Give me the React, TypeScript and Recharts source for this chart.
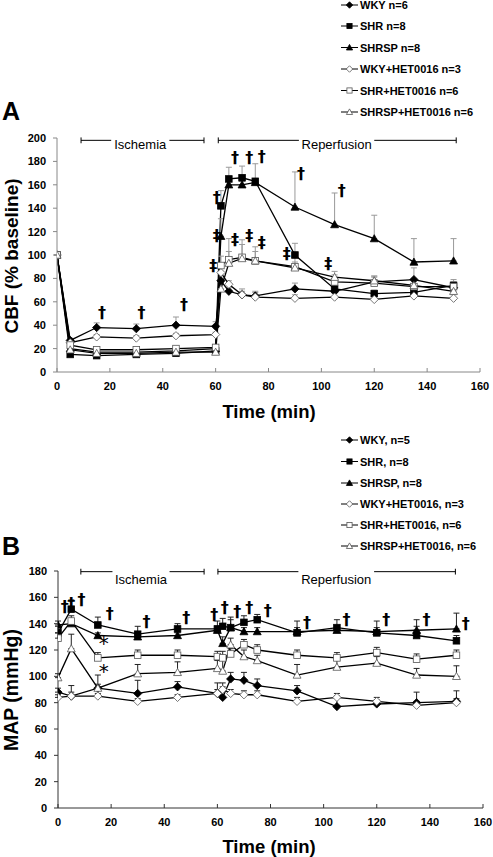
import React from "react";
import {
  ComposedChart, Line, XAxis, YAxis, Scatter, ErrorBar, ReferenceLine,
} from "recharts";

const FONT = '"Liberation Sans", Arial, sans-serif';

// sampling times (min), both panels
const TIMES = [0, 5, 15, 30, 45, 60, 62, 65, 70, 75, 90, 105, 120, 135, 150];
const X_TICKS = [0, 20, 40, 60, 80, 100, 120, 140, 160];
const CBF_TICKS = [0, 20, 40, 60, 80, 100, 120, 140, 160, 180, 200];
const MAP_TICKS = [0, 20, 40, 60, 80, 100, 120, 140, 160, 180];

// panel A: CBF (% baseline)
const cbfWky      = [100, 27, 38, 37, 40, 39, 78, 69, 66, 65, 71, 69, 77, 79, 72];
const cbfShr      = [100, 15, 14, 15, 16, 18, 142, 165, 166, 163, 100, 71, 67, 68, 74];
const cbfShrsp    = [100, 20, 17, 17, 18, 20, 116, 160, 160, 162, 141, 126, 114, 94, 95];
const cbfWkyHet   = [100, 25, 30, 29, 31, 32, 85, 75, 66, 64, 63, 64, 62, 65, 63];
const cbfShrHet   = [100, 23, 19, 19, 20, 21, 91, 96, 98, 95, 90, 77, 76, 73, 73];
const cbfShrspHet = [100, 19, 16, 16, 17, 17, 71, 93, 97, 95, 89, 81, 78, 74, 69];

const cbfWkyErr      = [0, 2, 4, 4, 7, 4, 8, 3, 3, 3, 5, 4, 5, 10, 5];
const cbfShrErr      = [0, 1, 1, 1, 1, 1, 13, 10, 10, 15, 10, 4, 3, 4, 5];
const cbfShrspErr    = [0, 1, 1, 1, 1, 2, 15, 3, 3, 3, 30, 27, 20, 20, 19];
const cbfWkyHetErr   = [0, 2, 2, 2, 2, 2, 5, 3, 5, 5, 3, 3, 3, 4, 3];
const cbfShrHetErr   = [0, 1, 1, 1, 1, 1, 8, 18, 15, 12, 8, 6, 5, 5, 4];
const cbfShrspHetErr = [0, 1, 1, 1, 1, 1, 6, 10, 12, 8, 5, 5, 4, 4, 4];

// panel B: MAP (mmHg)
const mapWky      = [88, 85, 91, 87, 92, 87, 84, 98, 97, 93, 89, 77, 79, 80, 81];
const mapShr      = [133, 151, 139, 132, 136, 136, 138, 137, 141, 143, 133, 137, 133, 131, 127];
const mapShrsp    = [139, 140, 131, 130, 131, 135, 125, 137, 134, 134, 134, 135, 134, 135, 136];
const mapWkyHet   = [84, 85, 85, 81, 84, 87, 90, 87, 86, 86, 81, 84, 81, 78, 80];
const mapShrHet   = [129, 142, 114, 116, 116, 115, 114, 117, 124, 120, 116, 114, 118, 113, 116];
const mapShrspHet = [99, 121, 91, 102, 103, 106, 104, 124, 115, 112, 101, 107, 110, 101, 100];

const mapWkyErr      = [3, 8, 3, 10, 4, 8, 8, 5, 6, 5, 4, 8, 3, 8, 8];
const mapShrErr      = [5, 7, 6, 6, 4, 6, 6, 8, 5, 4, 9, 6, 9, 12, 4];
const mapShrspErr    = [3, 3, 2, 2, 2, 3, 5, 6, 3, 3, 3, 3, 3, 3, 12];
const mapWkyHetErr   = [2, 3, 2, 2, 2, 3, 5, 3, 3, 3, 3, 3, 3, 3, 3];
const mapShrHetErr   = [4, 4, 4, 4, 4, 4, 5, 4, 4, 4, 4, 4, 4, 4, 4];
const mapShrspHetErr = [3, 11, 10, 7, 8, 6, 8, 5, 5, 4, 8, 7, 5, 5, 8];

const LEGEND_A = ["WKY n=6", "SHR n=8", "SHRSP n=8", "WKY+HET0016 n=3", "SHR+HET0016 n=6", "SHRSP+HET0016 n=6"];
const LEGEND_B = ["WKY, n=5", "SHR, n=8", "SHRSP, n=8", "WKY+HET0016, n=3", "SHR+HET0016, n=6", "SHRSP+HET0016, n=6"];

// significance marks: time, value, symbol
const MARKS_A: [number, number, string][] = [
  [17, 51, "†"], [32, 51, "†"], [48, 58, "†"],
  [60.4, 149, "†"], [67.3, 183, "†"], [72.7, 183, "†"], [77.4, 184, "†"],
  [92.3, 170, "†"], [107.7, 155, "†"],
  [60.4, 117, "‡"], [59.1, 91, "‡"], [67.3, 113, "‡"], [72.7, 117, "‡"],
  [77.4, 111, "‡"], [86.9, 101, "‡"], [102.6, 93, "‡"],
];
const MARKS_B: [number, number, string][] = [
  [2.5, 153, "†"], [5, 155, "†"], [8.8, 158, "†"], [19.5, 148, "†"],
  [33.3, 142, "†"], [48.3, 145, "†"], [58.8, 147, "†"], [62.8, 152, "†"],
  [67.5, 149, "†"], [72, 152, "†"], [79, 150, "†"], [93.7, 141, "†"],
  [108.6, 143, "†"], [123.6, 143, "†"], [138.7, 143, "†"], [153.5, 140, "†"],
  [17.2, 125, "*"], [17.2, 104, "*"],
];

// phase brackets: start, label start, label end, end (min)
const PHASES = ["Ischemia", "Reperfusion"];
const BRACKETS_A = [[9.1, 20.5, 42.5, 55.6], [61, 91.5, 120, 151]];
const BRACKETS_B = [[8.6, 20.5, 42, 55], [60.2, 90.5, 119, 149.6]];

const SERIES = [
  { key: "wky", shape: "diamond", filled: true },
  { key: "shr", shape: "square", filled: true },
  { key: "shrsp", shape: "triangle", filled: true },
  { key: "wkyHet", shape: "diamond", filled: false },
  { key: "shrHet", shape: "square", filled: false },
  { key: "shrspHet", shape: "triangle", filled: false },
];

function buildRows(vals: number[][], errs: number[][]) {
  return TIMES.map((t, i) => {
    const row: Record<string, any> = { t };
    SERIES.forEach((s, k) => {
      row[s.key] = vals[k][i];
      row[s.key + "Err"] = [0, errs[k][i]];
    });
    return row;
  });
}

const rowsA = buildRows(
  [cbfWky, cbfShr, cbfShrsp, cbfWkyHet, cbfShrHet, cbfShrspHet],
  [cbfWkyErr, cbfShrErr, cbfShrspErr, cbfWkyHetErr, cbfShrHetErr, cbfShrspHetErr],
);
const rowsB = buildRows(
  [mapWky, mapShr, mapShrsp, mapWkyHet, mapShrHet, mapShrspHet],
  [mapWkyErr, mapShrErr, mapShrspErr, mapWkyHetErr, mapShrHetErr, mapShrspHetErr],
);

function Marker({ cx, cy, shape, filled, r }: { cx?: number; cy?: number; shape: string; filled: boolean; r: number }) {
  if (cx == null || cy == null || isNaN(cx) || isNaN(cy)) return null;
  const fill = filled ? "#000" : "#fff";
  const stroke = filled ? "#000" : "#555";
  if (shape === "square") {
    return <rect x={cx - r} y={cy - r} width={2 * r} height={2 * r} fill={fill} stroke={stroke} strokeWidth={0.8} />;
  }
  if (shape === "diamond") {
    const d = r * 1.25;
    return <path d={`M${cx} ${cy - d}L${cx + d} ${cy}L${cx} ${cy + d}L${cx - d} ${cy}Z`} fill={fill} stroke={stroke} strokeWidth={0.8} />;
  }
  const h = r * 1.2;
  return <path d={`M${cx} ${cy - h}L${cx + h} ${cy + h * 0.8}L${cx - h} ${cy + h * 0.8}Z`} fill={fill} stroke={stroke} strokeWidth={0.8} />;
}

const tickStyle = { fontSize: 11, fontWeight: 700, fill: "#000", fontFamily: FONT };

function Panel({ rows, marks, brackets, yMax, yTicks, lineLevel, textLevel, tickH, axisColor, errColor, width, height, margin }: any) {
  const markData = marks.map(([t, v, s]: [number, number, string]) => ({ t, v, s }));
  const phaseData = brackets.map((b: number[], i: number) => ({ t: (b[1] + b[2]) / 2, v: textLevel, s: PHASES[i] }));
  return (
    <ComposedChart width={width} height={height} data={rows} margin={margin}>
      <XAxis
        dataKey="t" type="number" domain={[0, 160]} ticks={X_TICKS} interval={0}
        height={30} tickSize={-4} tickMargin={14}
        axisLine={{ stroke: axisColor }} tickLine={{ stroke: axisColor }}
        tick={tickStyle} allowDataOverflow
      />
      <YAxis
        type="number" domain={[0, yMax]} ticks={yTicks} interval={0}
        width={40} tickSize={4} tickMargin={7}
        axisLine={{ stroke: axisColor }} tickLine={{ stroke: axisColor }}
        tick={tickStyle} allowDataOverflow
      />
      {brackets.map((b: number[], i: number) => (
        <React.Fragment key={`br-${i}`}>
          <ReferenceLine segment={[{ x: b[0], y: lineLevel }, { x: b[1], y: lineLevel }]} stroke="#000" strokeWidth={1} ifOverflow="visible" />
          <ReferenceLine segment={[{ x: b[2], y: lineLevel }, { x: b[3], y: lineLevel }]} stroke="#000" strokeWidth={1} ifOverflow="visible" />
          <ReferenceLine segment={[{ x: b[0], y: lineLevel - tickH }, { x: b[0], y: lineLevel + tickH }]} stroke="#000" strokeWidth={1} ifOverflow="visible" />
          <ReferenceLine segment={[{ x: b[3], y: lineLevel - tickH }, { x: b[3], y: lineLevel + tickH }]} stroke="#000" strokeWidth={1} ifOverflow="visible" />
        </React.Fragment>
      ))}
      {SERIES.map((s) => (
        <Line
          key={s.key}
          dataKey={s.key}
          type="linear"
          stroke="#000"
          strokeWidth={1.3}
          isAnimationActive={false}
          activeDot={false}
          dot={(p: any) => <Marker key={`${s.key}-${p.index}`} cx={p.cx} cy={p.cy} shape={s.shape} filled={s.filled} r={3.3} />}
        >
          <ErrorBar dataKey={`${s.key}Err`} direction="y" width={3} stroke={errColor} strokeWidth={1} />
        </Line>
      ))}
      <Scatter
        data={phaseData}
        dataKey="v"
        isAnimationActive={false}
        shape={(p: any) => (
          <text x={p.cx} y={p.cy} textAnchor="middle" fontSize={13} fontFamily={FONT} fill="#000">
            {p.payload.s}
          </text>
        )}
      />
      <Scatter
        data={markData}
        dataKey="v"
        isAnimationActive={false}
        shape={(p: any) => (
          <text
            x={p.cx} y={p.cy} textAnchor="middle" dominantBaseline="central"
            fontSize={p.payload.s === "*" ? 20 : 16} fontWeight={p.payload.s === "*" ? 400 : 700}
            fontFamily='"DejaVu Sans", sans-serif' fill="#000"
          >
            {p.payload.s}
          </text>
        )}
      />
    </ComposedChart>
  );
}

function Legend({ labels, rowsY }: { labels: string[]; rowsY: number[] }) {
  return (
    <g>
      {labels.map((lab, i) => (
        <g key={lab}>
          <line x1={341} x2={358} y1={rowsY[i]} y2={rowsY[i]} stroke="#000" strokeWidth={1} />
          <Marker cx={349.5} cy={rowsY[i]} shape={SERIES[i].shape} filled={SERIES[i].filled} r={2.6} />
          <text x={360} y={rowsY[i]} dominantBaseline="central" fontSize={11} fontWeight={700} fontFamily={FONT} fill="#000">
            {lab}
          </text>
        </g>
      ))}
    </g>
  );
}

export default function App() {
  return (
    <div style={{ position: "absolute", left: 0, top: 0, width: 493, height: 857, background: "#fff", fontFamily: FONT }}>
      <div style={{ position: "absolute", left: 0, top: 0 }}>
        <Panel
          rows={rowsA} marks={MARKS_A} brackets={BRACKETS_A}
          yMax={200} yTicks={CBF_TICKS} lineLevel={198} textLevel={191} tickH={2.5}
          axisColor="#888" errColor="#999"
          width={493} height={430} margin={{ top: 138, right: 13, bottom: 28, left: 17 }}
        />
      </div>
      <div style={{ position: "absolute", left: 0, top: 440 }}>
        <Panel
          rows={rowsB} marks={MARKS_B} brackets={BRACKETS_B}
          yMax={180} yTicks={MAP_TICKS} lineLevel={179.5} textLevel={170} tickH={2.2}
          axisColor="#333" errColor="#222"
          width={493} height={417} margin={{ top: 131, right: 10, bottom: 19, left: 18 }}
        />
      </div>
      <svg width={493} height={857} style={{ position: "absolute", left: 0, top: 0, pointerEvents: "none" }}>
        <text x={2} y={120} fontSize={25} fontWeight={700} fontFamily={FONT}>A</text>
        <text x={2} y={555} fontSize={25} fontWeight={700} fontFamily={FONT}>B</text>
        <text transform="translate(18,256) rotate(-90)" textAnchor="middle" fontSize={19} fontWeight={700} fontFamily={FONT}>
          CBF (% baseline)
        </text>
        <text transform="translate(18,690) rotate(-90)" textAnchor="middle" fontSize={19.5} fontWeight={700} fontFamily={FONT}>
          MAP (mmHg)
        </text>
        <text x={269} y={418} textAnchor="middle" fontSize={18.5} fontWeight={700} fontFamily={FONT}>Time (min)</text>
        <text x={269} y={853} textAnchor="middle" fontSize={18.5} fontWeight={700} fontFamily={FONT}>Time (min)</text>
        <Legend labels={LEGEND_A} rowsY={[5, 26, 47.5, 69, 90.5, 112]} />
        <Legend labels={LEGEND_B} rowsY={[440, 461.5, 483, 504, 525, 546]} />
      </svg>
    </div>
  );
}
